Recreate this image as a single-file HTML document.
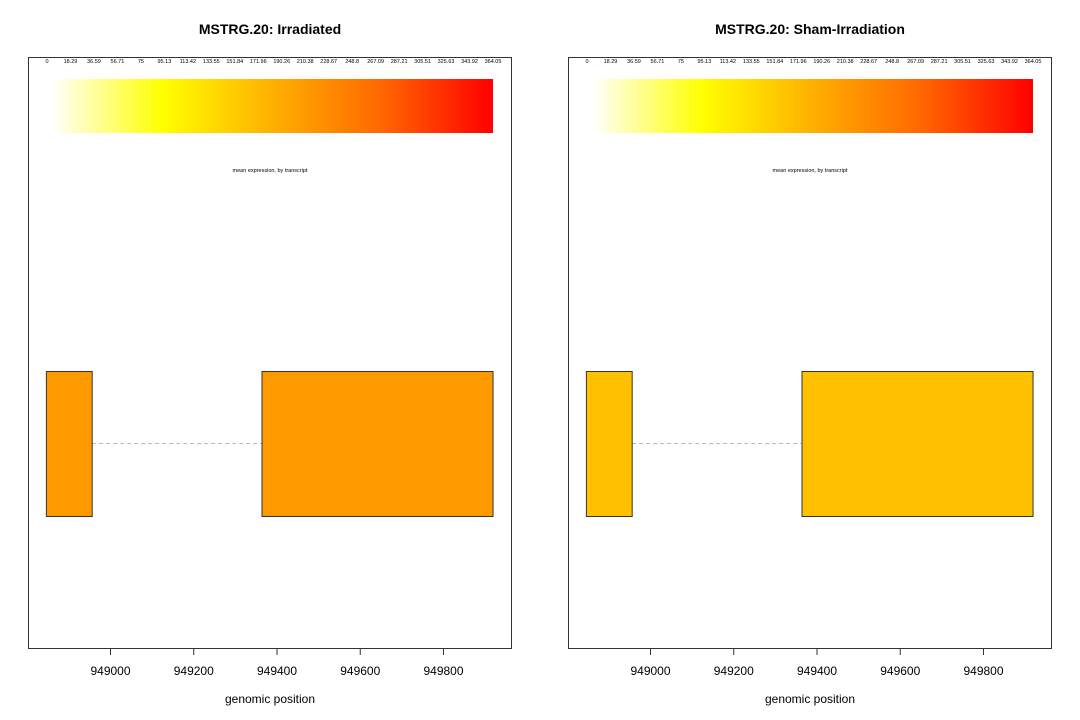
<!DOCTYPE html>
<html><head><meta charset="utf-8"><style>
body{margin:0;background:#fff;}
svg{display:block;font-family:"Liberation Sans",sans-serif;}
</style></head><body>
<svg id="c" width="1080" height="720" xmlns="http://www.w3.org/2000/svg">
<defs>
<linearGradient id="g" x1="0" x2="1" y1="0" y2="0">
<stop offset="0" stop-color="#ffffff"/>
<stop offset="0.25" stop-color="#ffff00"/>
<stop offset="0.5" stop-color="#ffb000"/>
<stop offset="0.75" stop-color="#ff6600"/>
<stop offset="1" stop-color="#ff0000"/>
</linearGradient>
</defs>
</svg>
<script>
const panelTitles=["MSTRG.20: Irradiated","MSTRG.20: Sham-Irradiation"];
const panelColors=["#ff9900","#ffc000"];
const exonStarts=[948846,949364];
const exonEnds=[948956,949919];
const xTicks=[949000,949200,949400,949600,949800];
const scaleLabels=["0","18.29","36.59","56.71","75","95.13","113.42","133.55","151.84","171.96","190.26","210.38","228.67","248.8","267.09","287.21","305.51","325.63","343.92","364.05"];
const NS="http://www.w3.org/2000/svg";
const svg=document.getElementById('c');
function mk(t,a,p){const e=document.createElementNS(NS,t);for(const k in a)e.setAttribute(k,a[k]);(p||svg).appendChild(e);return e;}
panelTitles.forEach((title,i)=>{
  const off=i*540;
  const g=mk('g',{});
  
  
  const X=v=>off+110.5+(v-949000)*(333/800);
  const t=mk('text',{x:off+270,y:34,'text-anchor':'middle','font-size':14,'font-weight':'bold'},g);t.textContent=title;
  
  
  const fr=mk('rect',{x:off+28.5,y:57.5,width:483,height:591,fill:'none',stroke:'#333'},g);
  
  
  scaleLabels.forEach((s,k)=>{
    const l=mk('text',{x:off+47+k*(446/19),y:63,'text-anchor':'middle','font-size':5.5},g);l.textContent=s;
    
    
  });
  const cb=mk('rect',{x:off+52,y:79,width:441,height:54,fill:'url(#g)'},g);
  
  
  const cl=mk('text',{x:off+270,y:172,'text-anchor':'middle','font-size':5.5},g);cl.textContent='mean expression, by transcript';
  
  
  const ln=mk('line',{x1:X(exonEnds[0]),x2:X(exonStarts[1]),y1:443.5,y2:443.5,stroke:'#bbb','stroke-dasharray':'4,3'},g);
  
  
  exonStarts.forEach((s,k)=>{
    const r=mk('rect',{x:X(s),y:371.5,width:X(exonEnds[k])-X(s),height:145,fill:panelColors[i],stroke:'#333'},g);
    
    
  });
  const ax=mk('line',{x1:X(xTicks[0]),x2:X(xTicks[xTicks.length-1]),y1:648.5,y2:648.5,stroke:'#333'},g);
  
  
  xTicks.forEach(v=>{
    mk('line',{x1:X(v),x2:X(v),y1:648.5,y2:655,stroke:'#333'},g);
    const tl=mk('text',{x:X(v),y:675,'text-anchor':'middle','font-size':12},g);tl.textContent=v;
    
    
  });
  const xt=mk('text',{x:off+270,y:703,'text-anchor':'middle','font-size':12},g);xt.textContent='genomic position';
  
  
});
</script>
</body></html>
